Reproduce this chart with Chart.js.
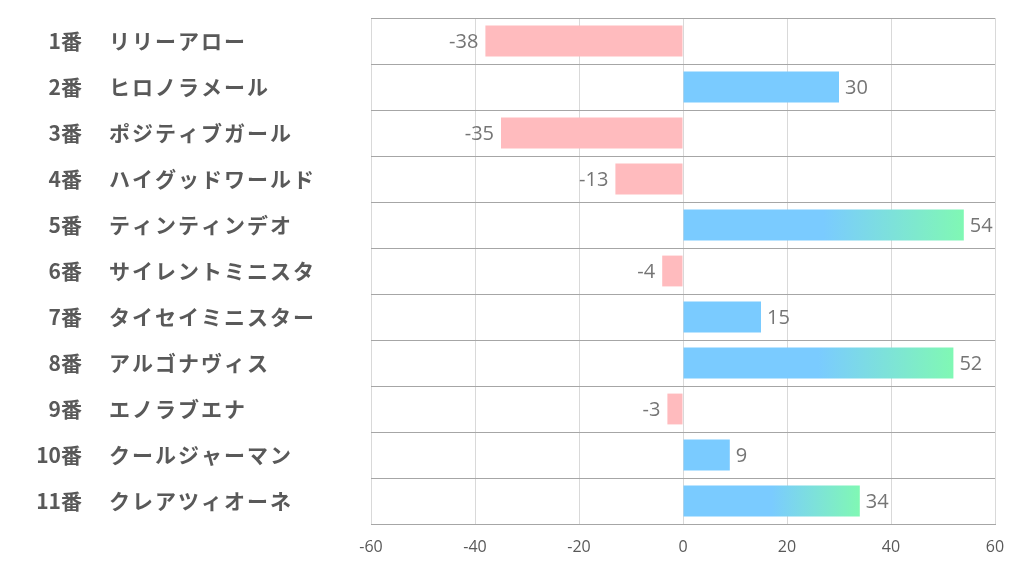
<!DOCTYPE html>
<html>
<head>
<meta charset="utf-8">
<script src="https://cdn.jsdelivr.net/npm/chart.js@4.4.0/dist/chart.umd.min.js"></script>
<style>
  html, body { margin: 0; padding: 0; background: #fff; }
  #wrap { width: 1022px; height: 574px; }
</style>
</head>
<body>
<div id="wrap"><canvas id="chart"></canvas></div>
<script>
// data
const numbers = ['1番', '2番', '3番', '4番', '5番', '6番', '7番', '8番', '9番', '10番', '11番'];
const horses = ['リリーアロー', 'ヒロノラメール', 'ポジティブガール', 'ハイグッドワールド', 'ティンティンデオ',
  'サイレントミニスタ', 'タイセイミニスター', 'アルゴナヴィス', 'エノラブエナ', 'クールジャーマン', 'クレアツィオーネ'];
const values = [-38, 30, -35, -13, 54, -4, 15, 52, -3, 9, 34];
const xTicks = [-60, -40, -20, 0, 20, 40, 60];

const pink = '#ffbbbe';
const blue = '#7acbff';
const green = '#80f8b4';

// bars above this get the blue->green fade
const fadeFrom = 30;

const barColor = (ctx) => {
  const v = ctx.raw;
  if (v < 0) return pink;
  if (v <= fadeFrom) return blue;
  const chart = ctx.chart;
  if (!chart.chartArea) return blue;
  const x = chart.scales.x;
  const x0 = x.getPixelForValue(0);
  const x1 = x.getPixelForValue(v);
  const g = chart.ctx.createLinearGradient(x0, 0, x1, 0);
  g.addColorStop(0, blue);
  g.addColorStop(0.5, blue);
  g.addColorStop(1, green);
  return g;
};

const labelPlugin = {
  id: 'labels',
  afterDraw(chart) {
    const c = chart.ctx;
    const y = chart.scales.y;
    const x = chart.scales.x;
    c.save();
    c.textBaseline = 'middle';
    c.fillStyle = '#595959';
    c.font = 'bold 21px "Noto Sans CJK JP"';
    numbers.forEach((n, i) => {
      const py = y.getPixelForValue(i);
      c.textAlign = 'right';
      c.letterSpacing = '0px';
      c.fillText(n, 82, py);
      c.textAlign = 'left';
      c.letterSpacing = '2px';
      c.fillText(horses[i], 109, py);
    });
    c.letterSpacing = '0px';
    c.font = '20px "Open Sans"';
    c.fillStyle = '#757575';
    values.forEach((v, i) => {
      const py = y.getPixelForValue(i) + 1;
      const px = x.getPixelForValue(v);
      if (v < 0) {
        c.textAlign = 'right';
        c.fillText(String(v), px - 7, py);
      } else {
        c.textAlign = 'left';
        c.fillText(String(v), px + 6, py);
      }
    });
    c.restore();
  }
};

const ctx = document.getElementById('chart').getContext('2d');
new Chart(ctx, {
  type: 'bar',
  data: {
    labels: horses,
    datasets: [{
      data: values,
      backgroundColor: barColor,
      barPercentage: 0.67,
      categoryPercentage: 1,
    }],
  },
  options: {
    indexAxis: 'y',
    responsive: true,
    maintainAspectRatio: false,
    animation: false,
    layout: { padding: { left: 0, right: 27, top: 18, bottom: 0 } },
    plugins: {
      legend: { display: false },
      tooltip: { enabled: false },
    },
    scales: {
      x: {
        min: xTicks[0],
        max: xTicks[xTicks.length - 1],
        afterBuildTicks: (scale) => { scale.ticks = xTicks.map(v => ({ value: v })); },
        afterFit: (scale) => { scale.height = 50; },
        ticks: { color: '#595959', font: { size: 16, family: 'Open Sans' }, padding: 14 },
        grid: { color: '#d9d9d9', drawTicks: false },
        border: { color: '#a6a6a6' },
      },
      y: {
        afterFit: (scale) => { scale.width = 371; },
        ticks: { display: false },
        grid: { color: '#a6a6a6', drawTicks: false, offset: true },
        border: { display: false },
      },
    },
  },
  plugins: [labelPlugin],
});
</script>
</body>
</html>
